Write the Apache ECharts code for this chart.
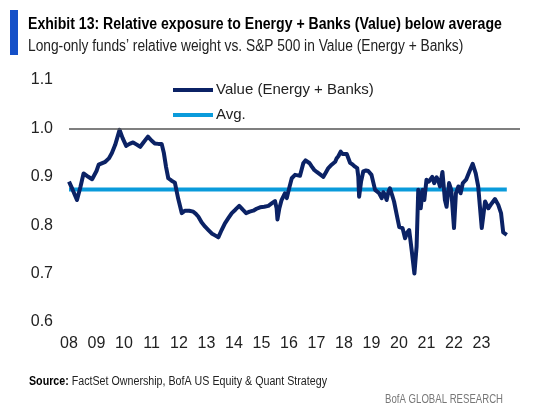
<!DOCTYPE html>
<html>
<head>
<meta charset="utf-8">
<script src="https://cdn.jsdelivr.net/npm/echarts@6/dist/echarts.min.js"></script>
<style>
html,body{margin:0;padding:0;background:#fff;}
#c{width:536px;height:413px;}
</style>
</head>
<body>
<div id="c"></div>
<script>
// ---- data ----
var titleText = 'Exhibit 13: Relative exposure to Energy + Banks (Value) below average';
var subtitleText = 'Long-only funds\u2019 relative weight vs. S&P 500 in Value (Energy + Banks)';
var seriesNames = ['Value (Energy + Banks)', 'Avg.'];
var yTicks = [0.6, 0.7, 0.8, 0.9, 1.0, 1.1];
var xTickYears = [2008, 2009, 2010, 2011, 2012, 2013, 2014, 2015, 2016, 2017, 2018, 2019, 2020, 2021, 2022, 2023];
var avgValue = 0.874;
var refValue = 1.0;
var dates = [
2008.00,2008.12,2008.29,2008.42,2008.53,2008.70,2008.84,2009.00,2009.08,2009.32,
2009.45,2009.56,2009.68,2009.84,2009.95,2010.08,2010.20,2010.33,2010.45,2010.59,
2010.72,2010.87,2011.00,2011.12,2011.25,2011.37,2011.45,2011.53,2011.61,2011.73,
2011.85,2011.97,2012.10,2012.22,2012.37,2012.52,2012.62,2012.70,2012.82,2012.95,
2013.07,2013.19,2013.31,2013.43,2013.55,2013.67,2013.80,2013.92,2014.05,2014.19,
2014.32,2014.44,2014.57,2014.70,2014.82,2014.95,2015.10,2015.25,2015.37,2015.49,
2015.55,2015.58,2015.65,2015.73,2015.85,2015.92,2016.00,2016.10,2016.22,2016.32,
2016.40,2016.52,2016.60,2016.67,2016.75,2016.83,2016.92,2017.01,2017.13,2017.25,
2017.35,2017.43,2017.55,2017.62,2017.68,2017.73,2017.80,2017.88,2017.95,2018.00,
2018.10,2018.22,2018.32,2018.40,2018.48,2018.52,2018.55,2018.62,2018.70,2018.80,
2018.88,2019.00,2019.13,2019.20,2019.28,2019.37,2019.43,2019.49,2019.55,2019.62,
2019.67,2019.75,2019.82,2019.92,2020.01,2020.13,2020.22,2020.30,2020.37,2020.46,
2020.56,2020.64,2020.70,2020.75,2020.79,2020.86,2020.92,2021.00,2021.08,2021.15,
2021.21,2021.28,2021.37,2021.43,2021.49,2021.58,2021.67,2021.73,2021.82,2021.90,
2022.00,2022.07,2022.16,2022.24,2022.32,2022.38,2022.44,2022.56,2022.68,2022.79,
2022.88,2023.01,2023.13,2023.25,2023.37,2023.49,2023.61,2023.71,2023.79,2023.92
];
var values = [
0.890,0.875,0.852,0.880,0.907,0.900,0.895,0.912,0.925,0.931,
0.938,0.949,0.966,0.997,0.980,0.964,0.968,0.971,0.967,0.962,
0.972,0.983,0.975,0.969,0.968,0.968,0.949,0.920,0.897,0.892,
0.888,0.855,0.825,0.830,0.830,0.828,0.823,0.818,0.806,0.797,
0.790,0.783,0.779,0.775,0.790,0.804,0.815,0.825,0.832,0.840,
0.832,0.825,0.828,0.830,0.834,0.837,0.838,0.840,0.845,0.850,
0.835,0.812,0.835,0.852,0.866,0.856,0.875,0.897,0.904,0.903,
0.902,0.928,0.934,0.936,0.928,0.921,0.914,0.910,0.905,0.900,
0.910,0.918,0.925,0.922,0.931,0.938,0.943,0.952,0.947,0.945,
0.947,0.929,0.925,0.921,0.918,0.900,0.859,0.890,0.911,0.913,
0.912,0.904,0.873,0.872,0.866,0.856,0.868,0.863,0.852,0.870,
0.876,0.862,0.849,0.821,0.796,0.794,0.773,0.785,0.790,0.749,
0.700,0.756,0.873,0.850,0.835,0.873,0.852,0.894,0.890,0.895,
0.900,0.887,0.899,0.892,0.880,0.910,0.852,0.838,0.887,0.873,
0.794,0.866,0.880,0.866,0.887,0.883,0.894,0.911,0.927,0.907,
0.880,0.794,0.849,0.835,0.845,0.854,0.842,0.825,0.785,0.780
];

var lineData = dates.map(function (d, i) { return [d, values[i]]; });
var avgData = [[dates[0], avgValue], [dates[dates.length - 1], avgValue]];

var FONT = '"Liberation Sans", Roboto, sans-serif';
var chart = echarts.init(document.getElementById('c'), null, {renderer: 'canvas'});
chart.setOption({
  animation: false,
  backgroundColor: '#ffffff',
  grid: {left: 69, right: 16, top: 80, bottom: 91, containLabel: false},
  graphic: [
    {type: 'rect', shape: {x: 10, y: 10, width: 8, height: 45}, style: {fill: '#1550C8'}},
    {type: 'text', x: 28, y: 17, scaleX: 0.88,
      style: {text: titleText, font: 'bold 16px ' + FONT, fill: '#000', textVerticalAlign: 'top'}},
    {type: 'text', x: 28, y: 39, scaleX: 0.86,
      style: {text: subtitleText, font: '16px ' + FONT, fill: '#222', textVerticalAlign: 'top'}},
    {type: 'text', x: 29, y: 376, scaleX: 0.89, style: {
      text: '{b|Source:} FactSet Ownership, BofA US Equity & Quant Strategy',
      rich: {b: {fontWeight: 'bold', fontSize: 12, fontFamily: FONT, fill: '#000'}},
      font: '12px ' + FONT, fill: '#222', textVerticalAlign: 'top'}},
    {type: 'text', x: 503, y: 394, scaleX: 0.8, style: {text: 'BofA GLOBAL RESEARCH', font: '12px ' + FONT, fill: '#777',
      textAlign: 'right', textVerticalAlign: 'top'}}
  ],
  legend: {
    orient: 'vertical', left: 173, top: 81, padding: 0, itemWidth: 40, itemHeight: 4, itemGap: 7,
    icon: 'rect',
    textStyle: {fontSize: 15, fontFamily: FONT, color: '#222', lineHeight: 18, padding: [0, 0, 0, -2]},
    data: seriesNames
  },
  xAxis: {
    type: 'value', min: 2008, max: 2024.4, interval: 1,
    axisLine: {show: false}, axisTick: {show: false}, splitLine: {show: false},
    axisLabel: {
      fontSize: 16, fontFamily: FONT, color: '#222', margin: 14,
      showMaxLabel: false,
      formatter: function (v) { return xTickYears.indexOf(v) >= 0 ? String(v).slice(2) : ''; }
    }
  },
  yAxis: {
    type: 'value', min: yTicks[0], max: yTicks[yTicks.length - 1], interval: 0.1,
    axisLine: {show: false}, axisTick: {show: false}, splitLine: {show: false},
    axisLabel: {fontSize: 16, fontFamily: FONT, color: '#222', margin: 16,
      formatter: function (v) { return v.toFixed(1); }}
  },
  series: [
    {
      name: seriesNames[0], type: 'line', data: lineData, showSymbol: false, symbol: 'none',
      lineStyle: {color: '#0B2265', width: 4, join: 'round'}, itemStyle: {color: '#0B2265'},
      z: 3
    },
    {
      name: seriesNames[1], type: 'line', data: avgData, showSymbol: false, symbol: 'none',
      lineStyle: {color: '#0A9BDB', width: 4}, itemStyle: {color: '#0A9BDB'},
      z: 2,
      markLine: {
        silent: true, symbol: 'none', label: {show: false},
        lineStyle: {color: '#555', width: 1.5, type: 'solid'},
        data: [{yAxis: refValue}]
      }
    }
  ]
});
</script>
</body>
</html>
